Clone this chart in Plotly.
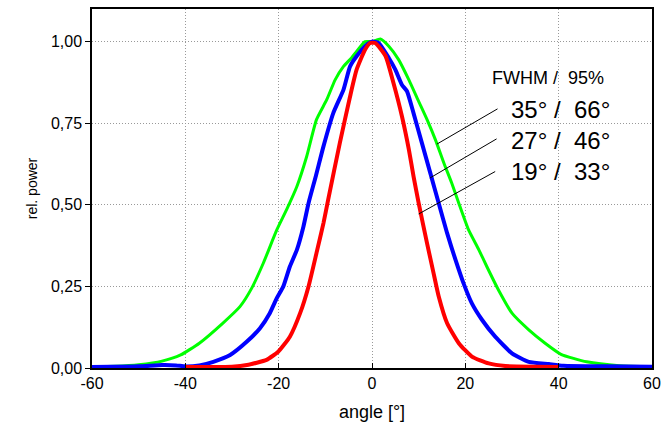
import plotly.graph_objects as go

# ---- data ----
green_angle = [-60, -55, -50, -45, -41, -37, -32, -28.3, -25.8, -23.3, -20.4, -18.3, -16.1, -14, -11.9, -9.7,
               -7.9, -6.1, -4.4, -3.3, -1.5, 0, 1.8, 3.6, 5.7, 7.9, 10, 11.8, 13.6, 15.4, 17.1, 18.6, 20.7,
               22.9, 24.6, 27.1, 30, 33.6, 37.1, 40.5, 46, 53, 60]
green_power = [0.003, 0.005, 0.010, 0.021, 0.040, 0.076, 0.137, 0.188, 0.244, 0.321, 0.423, 0.485, 0.556,
               0.648, 0.761, 0.822, 0.883, 0.924, 0.950, 0.970, 1.0, 1.0, 1.008, 0.986, 0.945, 0.883, 0.817,
               0.761, 0.699, 0.628, 0.566, 0.505, 0.423, 0.362, 0.311, 0.239, 0.168, 0.117, 0.076, 0.042,
               0.019, 0.007, 0.004]

blue_angle = [-60, -50, -45, -42, -40, -37, -34, -30.4, -26.8, -24, -21.9, -20.4, -19, -17.6, -16.1, -14.7,
              -13.6, -12, -10.4, -8.3, -6.1, -4.7, -3.3, -1.1, 0, 1.4, 3.6, 5, 6.4, 7.5, 8.9, 10.7, 12.5,
              14.3, 16.1, 17.9, 19.6, 21.4, 23.6, 26.4, 30, 33.6, 37.9, 41, 50, 60]
blue_power = [0.003, 0.005, 0.009, 0.008, 0.005, 0.008, 0.019, 0.040, 0.081, 0.122, 0.168, 0.214, 0.25,
              0.311, 0.362, 0.433, 0.505, 0.59, 0.679, 0.781, 0.853, 0.924, 0.955, 0.991, 1.0, 0.996, 0.950,
              0.914, 0.868, 0.848, 0.781, 0.689, 0.597, 0.505, 0.413, 0.331, 0.26, 0.198, 0.147, 0.096,
              0.045, 0.019, 0.012, 0.007, 0.005, 0.004]

red_angle = [-40, -35, -30, -26.8, -22.6, -20.1, -17.6, -15.4, -13.6, -11.9, -10.4, -9.4, -6.9, -4.7, -3.3,
             -1.5, -0.4, 0.7, 2.9, 4.6, 6.4, 7.9, 8.9, 10, 11.8, 13.2, 14.3, 16.1, 18.6, 21.4, 25, 28.6, 35, 40]
red_power = [0.003, 0.003, 0.004, 0.009, 0.025, 0.05, 0.096, 0.168, 0.25, 0.352, 0.444, 0.515, 0.689, 0.832,
             0.914, 0.975, 0.996, 0.996, 0.956, 0.873, 0.772, 0.669, 0.587, 0.505, 0.382, 0.29, 0.219, 0.137,
             0.076, 0.035, 0.014, 0.006, 0.004, 0.003]

x_ticks = [-60, -40, -20, 0, 20, 40, 60]
x_tick_labels = ["-60", "-40", "-20", "0", "20", "40", "60"]
y_ticks = [0, 0.25, 0.5, 0.75, 1.0]
y_tick_labels = ["0,00", "0,25", "0,50", "0,75", "1,00"]

header_label = "FWHM /  95%"
beam_labels = ["35° /  66°", "27° /  46°", "19° /  33°"]

# ---- figure ----
fig = go.Figure()
line_common = dict(shape="spline", smoothing=0.5)
fig.add_trace(go.Scatter(x=green_angle, y=green_power, mode="lines",
                         line=dict(color="#00ff00", width=3, **line_common), name="35°"))
fig.add_trace(go.Scatter(x=blue_angle, y=blue_power, mode="lines",
                         line=dict(color="#0000ff", width=4, **line_common), name="27°"))
fig.add_trace(go.Scatter(x=red_angle, y=red_power, mode="lines",
                         line=dict(color="#ff0000", width=4, **line_common), name="19°"))

font_family = "Liberation Sans, Arial, sans-serif"

# leader lines (annotation styling)
leaders = [((26.9, 0.794), (13.9, 0.686)),
           ((26.7, 0.702), (12.4, 0.582)),
           ((26.4, 0.602), (10.0, 0.472))]
for (x0, y0), (x1, y1) in leaders:
    fig.add_shape(type="line", xref="x", yref="y", x0=x0, y0=y0, x1=x1, y1=y1,
                  line=dict(color="black", width=1))

fig.add_annotation(x=25.3, y=0.89, xref="x", yref="y", text=header_label, showarrow=False,
                   xanchor="left", yanchor="middle", font=dict(size=18, color="black", family=font_family))
label_y = [0.791, 0.696, 0.601]
for txt, yy in zip(beam_labels, label_y):
    fig.add_annotation(x=29.4, y=yy, xref="x", yref="y", text=txt, showarrow=False,
                       xanchor="left", yanchor="middle", font=dict(size=24, color="black", family=font_family))

fig.update_layout(
    width=662, height=428,
    margin=dict(l=92, r=10, t=9, b=60),
    paper_bgcolor="white", plot_bgcolor="white",
    showlegend=False,
    font=dict(family=font_family, color="black"),
)
fig.update_xaxes(
    range=[-60, 60], tickvals=x_ticks, ticktext=x_tick_labels, automargin=False,
    showgrid=True, gridcolor="#999999", griddash="1px,2px", gridwidth=1,
    showline=True, linecolor="black", linewidth=1.5, mirror=True,
    ticks="inside", ticklen=5, tickcolor="black",
    tickfont=dict(size=16), zeroline=False,
    title=dict(text="angle [°]", font=dict(size=18), standoff=14),
)
fig.update_yaxes(
    range=[0, 1.1], tickvals=y_ticks, ticktext=y_tick_labels, automargin=False,
    showgrid=True, gridcolor="#999999", griddash="1px,2px", gridwidth=1,
    showline=True, linecolor="black", linewidth=1.5, mirror=True,
    ticks="outside", ticklen=5, tickcolor="black",
    tickfont=dict(size=16), zeroline=False,
    title=dict(text="rel. power", font=dict(size=14), standoff=10),
)

fig.write_html("out.html")
